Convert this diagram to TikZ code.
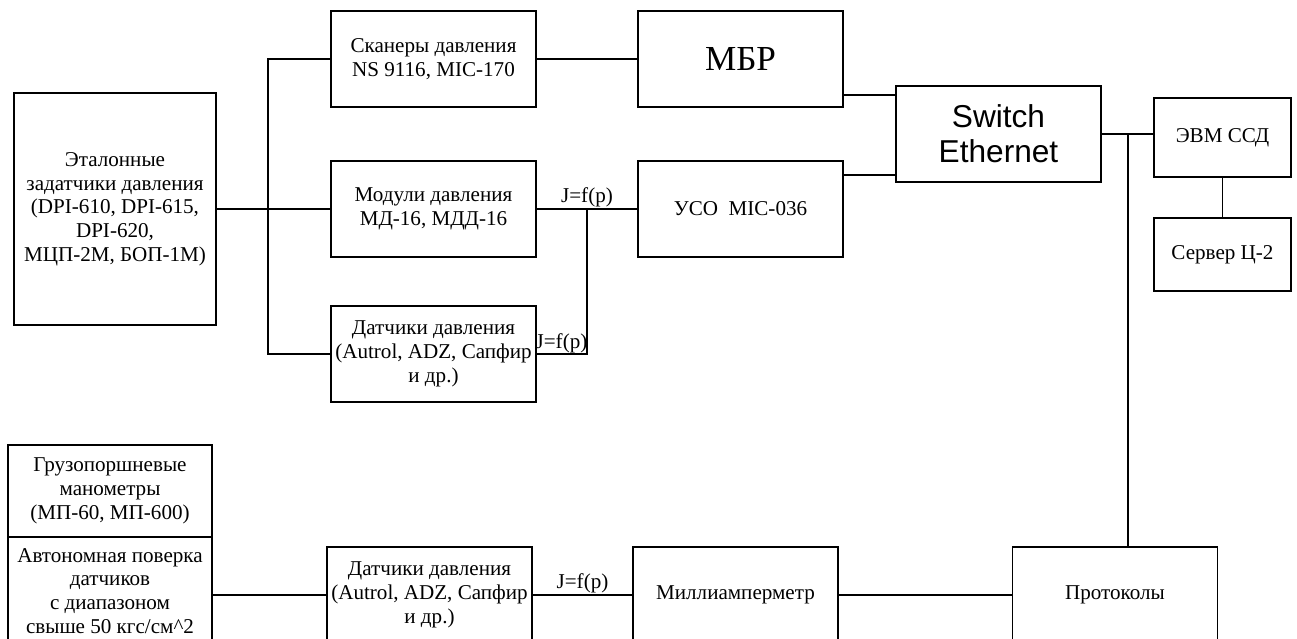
\documentclass[tikz,border=0pt]{standalone}
\usepackage{fontspec}
\setmainfont{Liberation Serif}
\newfontfamily\swfont{Liberation Sans}
\usetikzlibrary{positioning, calc}
\tikzset{
  blk/.style = {draw, align=center, font=\fontsize{12}{13.5}\selectfont,
                minimum width=41mm, minimum height=19.2mm, inner sep=1pt,
                outer sep=0pt, line width=0.8pt},
  pc/.style  = {blk, minimum width=27.4mm},
  lbl/.style = {font=\fontsize{12}{13}\selectfont, inner sep=0.6pt},
  ln/.style  = {line width=0.8pt},
}

\begin{document}
\begin{tikzpicture}[x=0.2mm, y=-0.2mm]
  \clip (0,0) rectangle (1297,639);
  \fill[white] (0,0) rectangle (1297,639);
  % upper branch
  \node[blk, minimum width=40.4mm, minimum height=46.4mm] (etl) at (115,209)
       {Эталонные\\задатчики давления\\(DPI-610, DPI-615,\\DPI-620,\\МЦП-2М, БОП-1М)};
  \node[blk] (scn) at (433.5,59) {Сканеры давления\\NS 9116, MIC-170};
  \node[blk, below=10.8mm of scn] (mod) {Модули давления\\МД-16, МДД-16};
  \node[blk, below=9.8mm of mod]   (dat1) {Датчики давления\\(Autrol, ADZ, Сапфир\\и др.)};
  \node[blk, right=20.4mm of scn, font=\fontsize{20}{24}\selectfont] (mbr) {МБР};
  \node[blk, right=20.4mm of mod] (uso) {УСО\ \ MIC-036};
  \node[blk, font=\swfont\fontsize{18}{20}\selectfont] (sw) at (998.5,134) {Switch\\Ethernet};
  \node[pc, minimum height=15.8mm] (evm) at (1222.5,137.5) {ЭВМ ССД};
  \node[pc, minimum height=14.6mm, below=8.2mm of evm] (srv) {Сервер Ц-2};
  % lower branch
  \node[blk, minimum width=40.8mm, minimum height=18.4mm] (grz) at (110,491)
       {Грузопоршневые\\манометры\\(МП-60, МП-600)};
  \node[blk, minimum width=40.8mm, minimum height=21.6mm, below=0mm of grz] (avt)
       {Автономная поверка\\датчиков\\с диапазоном\\свыше 50 кгс/см\^{}2};
  \node[blk] (dat2) at (429.5,595) {Датчики давления\\(Autrol, ADZ, Сапфир\\и др.)};
  \node[blk, right=20.2mm of dat2] (mil) {Миллиамперметр};
  \node[blk] (prt) at (1115,595) {Протоколы};

  \coordinate (bus) at (268,0);
  \coordinate (jn) at ($(mod.east)!0.5!(uso.west)$);
  \coordinate (m1) at ([yshift=2.4mm]mbr.south east);
  \coordinate (u1) at ([yshift=-2.8mm]uso.north east);
  \coordinate (pj) at ([xshift=2.6mm]prt.north);

  \draw[ln] (etl.east) -- (etl.east -| bus);
  \draw[ln] (scn.west) -- (scn.west -| bus) -- (bus |- dat1.west) -- (dat1.west);
  \draw[ln] (bus |- mod.west) -- (mod.west);
  \draw[ln] (scn) -- (mbr);
  \draw[ln] (mod) -- node[lbl, above]{J=f(p)} (uso);
  \draw[ln] (dat1.east) -- node[lbl, above, inner sep=0pt]{J=f(p)} (dat1.east -| jn) -- (jn);
  \draw[ln] (m1) -- (m1 -| sw.west);
  \draw[ln] (u1) -- (u1 -| sw.west);
  \draw[ln] (sw.east) -- (sw.east -| evm.west);
  \draw[ln] (pj) -- (pj |- sw.east);
  \draw[ln] (evm) -- (srv);
  \draw[ln] (dat2.west -| avt.east) -- (dat2.west);
  \draw[ln] (dat2) -- node[lbl, above]{J=f(p)} (mil);
  \draw[ln] (mil) -- (prt);
\end{tikzpicture}
\end{document}
